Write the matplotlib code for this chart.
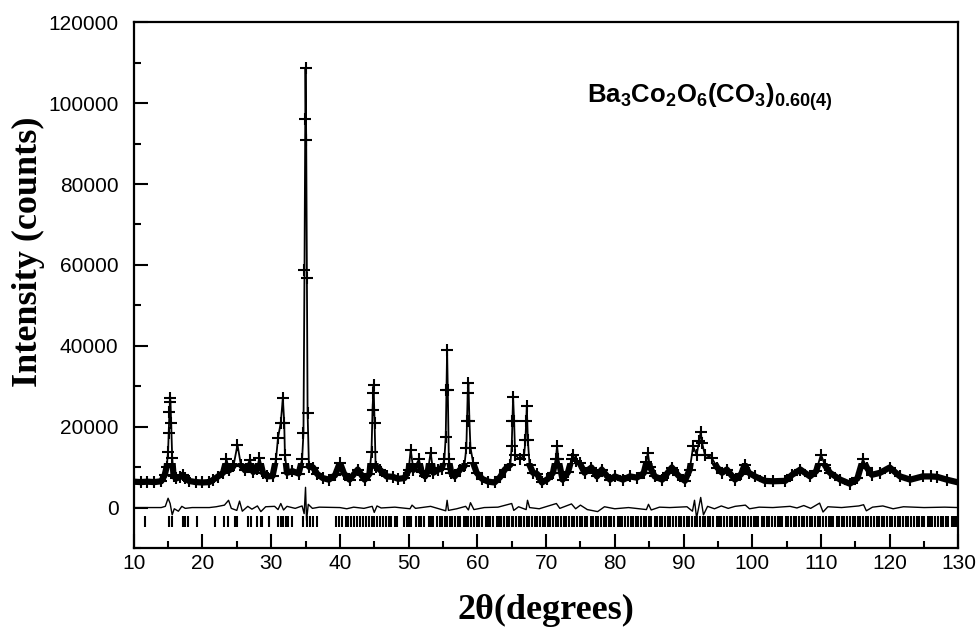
import numpy as np
import matplotlib
matplotlib.use("Agg")
import matplotlib.pyplot as plt
from matplotlib.ticker import MultipleLocator
from matplotlib.patches import Rectangle

# Datos (2theta en grados, intensidad en cuentas)
tt_obs = [10.0, 11.0, 12.0, 13.0, 14.0, 14.5, 14.8, 15.0, 15.1, 15.2, 15.3, 15.35, 15.45, 15.6, 15.8,
          16.2, 16.8, 17.1, 17.5, 18.0, 19.0, 20.0, 21.0, 21.5, 22.2, 23.0, 23.5, 23.9, 24.5, 25.1,
          25.6, 26.2, 26.9, 27.4, 27.9, 28.3, 28.8, 29.4, 30.2, 30.7, 31.0, 31.4, 31.7, 31.9, 32.0,
          32.3, 33.1, 34.0, 34.5, 34.7, 34.85, 34.95, 35.0, 35.1, 35.2, 35.3, 35.5, 36.1, 36.7, 37.5,
          38.4, 39.3, 40.0, 40.6, 41.4, 42.6, 43.6, 44.3, 44.6, 44.75, 44.85, 44.9, 45.05, 45.2, 45.8,
          46.8, 47.7, 48.5, 49.4, 50.0, 50.3, 50.7, 51.5, 51.9, 52.4, 52.8, 53.2, 53.6, 54.3, 54.8,
          55.2, 55.4, 55.5, 55.6, 55.7, 55.85, 56.2, 56.7, 57.5, 58.1, 58.4, 58.5, 58.6, 58.7, 58.85,
          59.0, 59.4, 59.9, 60.7, 61.6, 62.5, 63.3, 64.0, 64.8, 65.0, 65.1, 65.2, 65.35, 65.5, 66.2,
          66.8, 67.0, 67.1, 67.2, 67.35, 67.6, 68.1, 68.7, 69.4, 70.2, 71.0, 71.4, 71.6, 71.8, 72.4,
          73.2, 73.7, 73.9, 74.3, 74.9, 75.6, 76.6, 77.4, 78.1, 79.3, 80.0, 81.2, 82.2, 83.2, 84.2,
          84.6, 84.8, 85.1, 85.8, 86.9, 87.7, 88.3, 89.2, 90.2, 90.9, 91.4, 91.9, 92.3, 92.5, 92.7,
          93.1, 94.1, 94.9, 95.6, 96.3, 97.5, 98.4, 98.9, 99.5, 100.4, 101.8, 103.0, 104.8, 105.8, 107.0,
          108.4, 109.3, 110.0, 110.6, 111.3, 112.8, 114.2, 115.3, 116.1, 116.7, 117.4, 118.6, 120.0, 121.5, 123.0,
          124.8, 126.0, 126.9, 128.3, 130.0]
i_obs = [6400, 6300, 6400, 6300, 6500, 8000, 10100, 13800, 18500, 23700, 27000, 26000, 21000, 12300, 7800,
         7200, 7600, 8100, 7300, 6600, 6300, 6200, 6300, 6800, 7600, 8600, 11900, 9200, 10200, 15500,
         10500, 9200, 11800, 8800, 9500, 12300, 8600, 7700, 7800, 11900, 17300, 21000, 27100, 21000, 13100,
         8600, 9000, 8400, 11900, 18500, 58800, 96000, 108700, 91000, 56800, 23400, 10100, 9900, 8300, 7300,
         6900, 8000, 11100, 8400, 6900, 9400, 6900, 8300, 13800, 24200, 28400, 30400, 21000, 10100, 9400,
         7700, 7600, 7100, 7300, 9200, 14300, 9300, 11900, 8800, 7700, 9000, 13600, 8600, 9400, 9600,
         11900, 17500, 29100, 39000, 29100, 11900, 8600, 7700, 9400, 10200, 14800, 21300, 28400, 30900, 21300,
         14800, 11000, 8600, 7100, 6400, 6200, 7500, 9400, 10600, 15100, 21300, 27400, 21300, 13000, 11900,
         13000, 16600, 21300, 25000, 16600, 10500, 8600, 8300, 6200, 7000, 8600, 11900, 15100, 11900, 6900,
         8800, 11900, 13100, 11500, 11000, 8600, 9900, 7700, 9400, 6900, 7700, 6900, 7700, 7400, 8500,
         11200, 13600, 10100, 7700, 6900, 8600, 9900, 8000, 6600, 9400, 15100, 13100, 16500, 18800, 16000,
         13100, 12300, 9900, 8600, 9400, 6900, 8300, 10600, 8600, 7700, 6600, 6500, 6600, 8100, 9400,
         7700, 9000, 13100, 10400, 8600, 6900, 5900, 7200, 11900, 9800, 8100, 8600, 9900, 7700, 6900,
         7700, 7700, 7600, 6900, 6200]

tt_dif = [10, 14.0, 14.6, 15.0, 15.3, 15.6, 15.9, 16.5, 17.0, 17.5, 18.5, 21, 22, 23.2, 23.8, 24.2, 25.0,
          25.4, 25.8, 26.6, 27.2, 28.0, 28.5, 29.2, 30.5, 31.0, 31.4, 31.8, 32.3, 33.5, 34.5, 34.8, 35.0,
          35.15, 35.4, 36, 37, 40, 41, 42, 43.5, 44.7, 45.0, 45.4, 46, 48, 50.2, 50.5, 51, 53.2, 55.4,
          55.6, 55.8, 57, 58.3, 58.7, 59.0, 59.5, 61, 63, 65.0, 65.3, 66, 67.1, 67.3, 67.6, 69, 71.5,
          72, 73.7, 74.3, 75, 76, 77.5, 78.5, 80, 82, 84.6, 84.9, 85.3, 86.5, 88, 90.5, 91.3, 91.6, 91.9,
          92.5, 92.9, 93.5, 94.5, 95.5, 96.5, 97.5, 99, 99.6, 101, 103, 105.5, 106.5, 107.5, 108.5, 109.8,
          110.3, 111, 113, 115.5, 116.2, 116.6, 117.5, 119, 120.5, 122, 125, 128, 130]
i_dif = [0, 0, 300, 2300, 1000, -1800, -300, -900, 300, -200, 0, 0, 200, 600, 1800, -200, -700,
         1600, -900, 300, -400, 400, -1000, 200, 300, -500, 1000, -600, 300, -200, 400, -1500, 5000,
         -3200, 800, -200, 100, 0, -300, 100, -200, 300, -1200, 400, -100, 100, -300, 600, -200, 300, -800,
         1800, -700, -300, 300, -600, 1200, -500, 0, 100, 1000, -700, 200, -500, 1800, 0, -300, 1000,
         -200, 900, -300, 600, -500, -1000, 200, -300, 0, -500, 800, -600, 100, 0, 200, -900, 1800, -2600,
         2500, -1800, 300, -300, 400, -200, 300, 600, -300, 100, 0, 300, -100, 500, -200, 1100,
         -1100, 200, 0, 400, 700, -800, 100, 400, -300, 200, 0, 100, 0]

# Posiciones de las reflexiones de Bragg
tt_bragg = [11.7, 15.2, 15.5, 17.1, 17.4, 17.9, 19.2, 21.8, 23.2, 23.7, 24.7, 25.1, 26.6, 27.0, 28.0,
            28.5, 28.7, 29.7, 31.0, 31.4, 31.7, 32.1, 32.4, 33.0, 34.6, 35.2, 35.6, 36.1, 36.6,
            39.5, 39.9, 40.3, 40.9, 41.2, 41.6, 42.0, 42.5, 42.9, 43.3, 43.8, 44.2, 44.6, 44.9, 45.4,
            45.8, 46.3, 46.7, 47.1, 47.4, 48.0, 48.3, 49.3, 49.7, 50.1, 50.4, 51.1, 51.5, 51.8, 52.2,
            52.9, 53.3, 53.6, 54.1, 54.5, 54.9, 55.3, 55.6, 56.0, 56.3, 56.8, 57.2, 57.5, 58.0, 58.4,
            58.7, 59.1, 59.5, 60.0, 60.3, 60.7, 61.2, 61.5, 61.9, 62.3, 62.8, 63.1, 63.5, 63.9, 64.3,
            64.6, 65.0, 65.2, 65.6, 66.0, 66.4, 66.8, 67.2, 67.5, 67.9, 68.4, 68.7, 69.1, 69.5, 69.9,
            70.3, 70.6, 71.0, 71.5, 71.8, 72.2, 72.6, 72.9, 73.4, 73.8, 74.1, 74.5, 74.9, 75.3, 75.7,
            76.0, 76.5, 76.8, 77.2, 77.6, 78.0, 78.4, 78.7, 79.2, 79.5, 79.9, 80.4, 80.7, 81.1, 81.5,
            81.9, 82.3, 82.6, 83.1, 83.4, 83.8, 84.3, 84.6, 85.0, 85.3, 85.8, 86.1, 86.6, 86.9, 87.3,
            87.8, 88.1, 88.5, 88.9, 89.3, 89.7, 90.0, 90.5, 90.8, 91.2, 91.6, 92.0, 92.4, 92.8, 93.1,
            93.6, 93.9, 94.3, 94.8, 95.1, 95.5, 95.9, 96.3, 96.7, 97.0, 97.5, 97.8, 98.2, 98.6, 99.0,
            99.4, 99.8, 100.2, 100.6, 100.9, 101.4, 101.7, 102.1, 102.5, 102.9, 103.3, 103.7, 104.1, 104.4, 104.9,
            105.2, 105.6, 106.1, 106.4, 106.8, 107.2, 107.6, 108.0, 108.4, 108.7, 109.2, 109.5, 109.9, 110.3, 110.7,
            111.1, 111.5, 111.8, 112.3, 112.6, 113.0, 113.4, 113.8, 114.2, 114.6, 114.9, 115.4, 115.7, 116.1, 116.5,
            116.9, 117.3, 117.7, 118.1, 118.4, 118.9, 119.2, 119.6, 120.0, 120.4, 120.8, 121.2, 121.5, 122.0, 122.3,
            122.7, 123.1, 123.5, 123.9, 124.3, 124.7, 125.0, 125.5, 125.8, 126.2, 126.6, 127.0, 127.4, 127.8, 128.2,
            128.5, 129.0, 129.3, 129.7]

formula = r'$\mathbf{Ba_3Co_2O_6(CO_3)_{0.60(4)}}$'

plt.rcParams['mathtext.fontset'] = 'custom'
plt.rcParams['mathtext.bf'] = 'Liberation Sans:bold'
plt.rcParams['mathtext.rm'] = 'Liberation Sans'

fig = plt.figure(figsize=(9.76, 6.35), dpi=100)
ax = fig.add_axes([0.137, 0.137, 0.845, 0.828])

# Observado (+) y calculado (linea); banda gruesa solo en el fondo
banda, = ax.plot(tt_obs, i_obs, color='black', lw=4.5)
banda.set_clip_path(Rectangle((10, -10000), 120, 21000, transform=ax.transData))
ax.plot(tt_obs, i_obs, color='black', lw=1.3)
ax.plot(tt_obs, i_obs, ls='none', marker='+', color='black', ms=9, mew=1.5)
# Diferencia
ax.plot(tt_dif, i_dif, color='black', lw=1)
# Reflexiones de Bragg
ax.vlines(tt_bragg, -4800, -2100, color='black', lw=1.5)

ax.set_xlim(10, 130)
ax.set_ylim(-10000, 120000)
ax.set_yticks(np.arange(0, 120001, 20000))
ax.xaxis.set_major_locator(MultipleLocator(10))
ax.xaxis.set_minor_locator(MultipleLocator(5))
ax.yaxis.set_minor_locator(MultipleLocator(10000))
ax.tick_params(which='both', direction='in', width=1.5, labelsize=15)
ax.tick_params(which='major', length=10)
ax.tick_params(which='minor', length=5)
ax.tick_params(axis='y', pad=11)
ax.tick_params(axis='x', pad=4)
for lbl in ax.get_xticklabels() + ax.get_yticklabels():
    lbl.set_family('Liberation Sans')
for sp in ax.spines.values():
    sp.set_linewidth(1.6)

ax.set_xlabel('2θ(degrees)', family='Liberation Serif', fontweight='bold', fontsize=26)
ax.set_ylabel('Intensity (counts)', family='Liberation Serif', fontweight='bold', fontsize=26)
ax.xaxis.set_label_coords(0.5, -0.087)
ax.yaxis.set_label_coords(-0.107, 0.563)

ax.text(76, 101500, formula, fontsize=18.5, va='center', ha='left')

fig.savefig('out.png', dpi=100)
